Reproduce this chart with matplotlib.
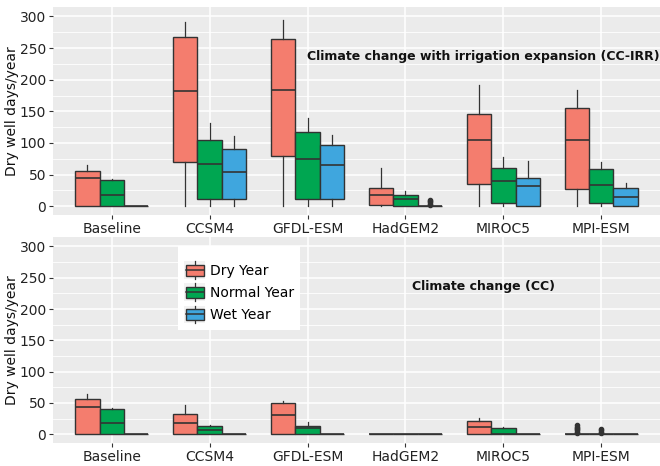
import matplotlib
matplotlib.use("Agg")
import matplotlib.pyplot as plt
from matplotlib.patches import Rectangle
from matplotlib.lines import Line2D
from matplotlib.legend_handler import HandlerBase
from matplotlib.ticker import MultipleLocator

categories = ['Baseline', 'CCSM4', 'GFDL-ESM', 'HadGEM2', 'MIROC5', 'MPI-ESM']
year_types = ['Dry Year', 'Normal Year', 'Wet Year']
colors = ['#F47D6E', '#00A651', '#3FA6DE']

# (whislo, q1, median, q3, whishi) per category
irr_dry = [(0, 0, 44, 56, 65), (0, 70, 182, 267, 291), (0, 80, 183, 265, 294),
           (0, 1.5, 18, 28, 60), (0, 35, 105, 146, 192), (0, 27, 105, 155, 184)]
irr_normal = [(0, 0, 18, 41, 43), (0, 11, 67, 105, 131), (0, 12, 74, 118, 139),
              (0, 0, 11, 18, 24), (0, 5, 39, 60, 77), (0, 5, 34, 58, 70)]
irr_wet = [(0, 0, 0, 0, 0), (0, 11, 54, 90, 111), (0, 11, 65, 96, 113),
           (0, 0, 0, 0, 0), (0, 0, 32, 44, 72), (0, 0, 14, 28, 37)]
irr_fliers = {(3, 2): [2, 4, 6, 8, 10]}

cc_dry = [(0, 0, 44, 56, 64), (0, 0, 18, 32, 47), (0, 0, 30, 50, 53),
          (0, 0, 0, 0, 0), (0, 0, 11, 21, 26), (0, 0, 0, 0, 0)]
cc_normal = [(0, 0, 18, 40, 42), (0, 0, 7.5, 13, 14.5), (0, 0, 10, 13, 19),
             (0, 0, 0, 0, 0), (0, 0, 0, 10, 11), (0, 0, 0, 0, 0)]
cc_wet = [(0, 0, 0, 0, 0)] * 6
cc_fliers = {(5, 0): [2, 4, 6, 8, 10, 12, 14], (5, 1): [2, 4, 6, 8]}

panel_titles = ['Climate change with irrigation expansion (CC-IRR)', 'Climate change (CC)']

EDGE = '#333333'
BG = '#EBEBEB'

fig = plt.figure(figsize=(6.6, 4.66), dpi=100)
ax1 = fig.add_axes([53 / 660, 1 - 215 / 466, 607 / 660, 208 / 466])
ax2 = fig.add_axes([53 / 660, 1 - 443 / 466, 607 / 660, 206 / 466])


def draw_panel(ax, series, fliers, title):
    ax.set_facecolor(BG)
    for s in ax.spines.values():
        s.set_visible(False)
    ax.set_xlim(0.4, 6.6)
    ax.set_ylim(-14, 315)
    ax.yaxis.set_major_locator(MultipleLocator(50))
    ax.yaxis.set_minor_locator(MultipleLocator(25))
    ax.grid(which='major', color='white', linewidth=1.1)
    ax.grid(which='minor', axis='y', color='white', linewidth=0.6)
    ax.set_axisbelow(True)
    offsets = [-0.25, 0.0, 0.25]
    for j, ser in enumerate(series):
        stats = []
        pos = []
        for i, (lo, q1, med, q3, hi) in enumerate(ser):
            stats.append(dict(whislo=lo, q1=q1, med=med, q3=q3, whishi=hi,
                              fliers=fliers.get((i, j), []), label=''))
            pos.append(i + 1 + offsets[j])
        ax.bxp(stats, positions=pos, widths=0.25, patch_artist=True,
               showcaps=False, manage_ticks=False,
               boxprops=dict(facecolor=colors[j], edgecolor=EDGE, linewidth=1.0),
               medianprops=dict(color=EDGE, linewidth=1.2),
               whiskerprops=dict(color=EDGE, linewidth=0.9),
               flierprops=dict(marker='o', markersize=3, markerfacecolor=EDGE,
                               markeredgecolor=EDGE, linestyle='none'))
    ax.set_xticks(range(1, len(categories) + 1))
    ax.set_xticklabels(categories)
    ax.set_yticks([0, 50, 100, 150, 200, 250, 300])
    ax.tick_params(axis='both', which='major', length=3, width=0.8, color=EDGE,
                   labelsize=10, labelcolor='#222222', pad=2)
    ax.tick_params(axis='y', which='minor', length=0)
    ax.set_ylabel('Dry well days/year', fontsize=10, color='#111111', labelpad=0.5)
    ax.text(4.8, 236, title, ha='center', va='center', fontsize=9,
            fontweight='bold', color='#111111')


draw_panel(ax1, [irr_dry, irr_normal, irr_wet], irr_fliers, panel_titles[0])
draw_panel(ax2, [cc_dry, cc_normal, cc_wet], cc_fliers, panel_titles[1])


class BoxKeyHandler(HandlerBase):
    def create_artists(self, legend, orig_handle, xdescent, ydescent,
                       width, height, fontsize, trans):
        x0, y0 = -xdescent, -ydescent
        fc = orig_handle.get_facecolor()
        bg = Rectangle((x0, y0), width, height, facecolor='#F2F2F2',
                       edgecolor='none', transform=trans)
        box = Rectangle((x0 + 0.06 * width, y0 + 0.2 * height), 0.88 * width,
                        0.6 * height, facecolor=fc, edgecolor=EDGE,
                        linewidth=1.0, transform=trans)
        xm = x0 + width / 2
        w1 = Line2D([xm, xm], [y0 + 0.8 * height, y0 + 1.0 * height], color=EDGE,
                    linewidth=0.9, transform=trans)
        w2 = Line2D([xm, xm], [y0, y0 + 0.2 * height], color=EDGE,
                    linewidth=0.9, transform=trans)
        med = Line2D([x0 + 0.06 * width, x0 + 0.94 * width],
                     [y0 + 0.5 * height, y0 + 0.5 * height], color=EDGE,
                     linewidth=1.1, transform=trans)
        return [bg, w1, w2, box, med]


handles = [Rectangle((0, 0), 1, 1, facecolor=c) for c in colors]
leg = ax2.legend(handles, year_types, handler_map={Rectangle: BoxKeyHandler()},
                 loc='upper left', bbox_to_anchor=(0.206, 0.956),
                 borderaxespad=0, frameon=True, fancybox=False, fontsize=10,
                 handlelength=1.5, handleheight=1.6, handletextpad=0.35,
                 labelspacing=0.3, borderpad=0.45,
                 title=' ', title_fontsize=4)
leg.get_frame().set_facecolor('white')
leg.get_frame().set_edgecolor('none')
leg.get_frame().set_alpha(1)

fig.savefig('out.png', dpi=100)
